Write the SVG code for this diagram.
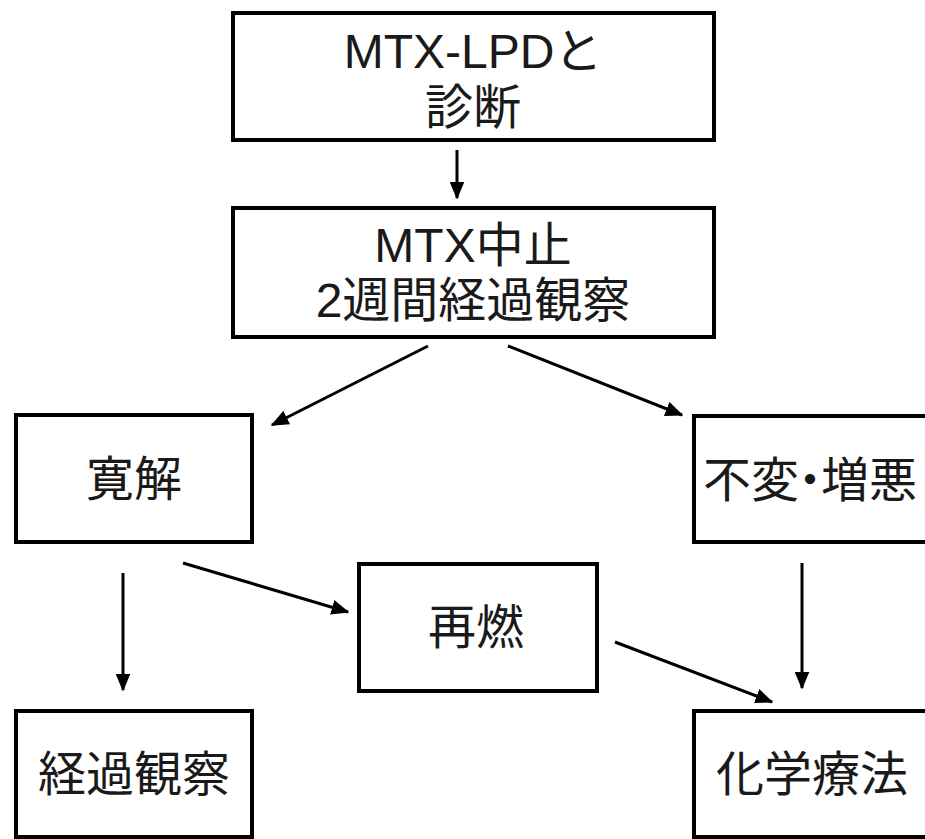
<svg xmlns="http://www.w3.org/2000/svg" width="925" height="839" viewBox="0 0 925 839">
<style>
.box{fill:#fff;stroke:#000;stroke-width:4}
.t{font-family:"Liberation Sans","Noto Sans CJK JP",sans-serif;font-size:48px;fill:#1a1a1a;text-anchor:middle}
.c{stroke:#000;stroke-width:3;fill:none;marker-end:url(#ah)}
</style>
<defs>
<marker id="ah" markerWidth="6" markerHeight="5" refX="5.5" refY="2.5" orient="auto" markerUnits="strokeWidth">
<path d="M0,0 L6,2.5 L0,5 z" fill="#000"/>
</marker>
</defs>
<rect width="925" height="839" fill="#fff"/>
<g id="n1"><rect class="box" x="233" y="13" width="481" height="127"/><text class="t" x="473" y="68">MTX-LPDと</text><text class="t" x="473" y="124">診断</text></g>
<g id="n2"><rect class="box" x="233" y="208" width="481" height="129"/><text class="t" x="473" y="262">MTX中止</text><text class="t" x="473" y="317">2週間経過観察</text></g>
<g id="n3"><rect class="box" x="16" y="415" width="236" height="127"/><text class="t" x="134" y="496">寛解</text></g>
<g id="n4"><rect class="box" x="694" y="416" width="236" height="126"/><text class="t" x="811" y="497" style="text-anchor:start" transform="translate(-108,0)">不変<tspan dx="-13">・</tspan><tspan dx="-13">増悪</tspan></text></g>
<g id="n5"><rect class="box" x="359" y="564" width="238" height="127"/><text class="t" x="476" y="644">再燃</text></g>
<g id="n6"><rect class="box" x="16" y="711" width="236" height="126"/><text class="t" x="134" y="791">経過観察</text></g>
<g id="n7"><rect class="box" x="694" y="711" width="236" height="126"/><text class="t" x="812" y="791">化学療法</text></g>
<g id="connectors">
<line class="c" x1="457" y1="150" x2="457" y2="198"/>
<line class="c" x1="428" y1="346" x2="272" y2="425"/>
<line class="c" x1="508" y1="346" x2="682" y2="415"/>
<line class="c" x1="123" y1="573" x2="123" y2="690"/>
<line class="c" x1="183" y1="563" x2="348" y2="612"/>
<line class="c" x1="615" y1="642" x2="772" y2="702"/>
<line class="c" x1="802" y1="563" x2="802" y2="688"/>
</g>
</svg>
